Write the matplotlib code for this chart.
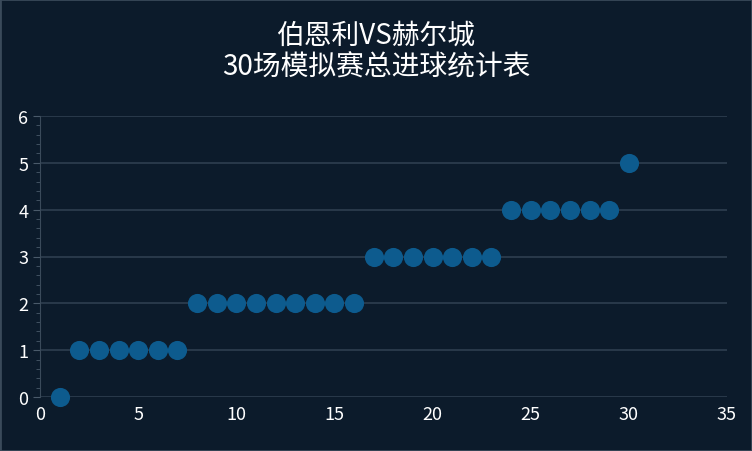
import matplotlib
matplotlib.use("Agg")
import matplotlib.pyplot as plt
from matplotlib.ticker import MultipleLocator

plt.rcParams['font.family'] = ['Noto Sans CJK SC', 'DejaVu Sans']

matches = list(range(1, 31))
goals = [0, 1, 1, 1, 1, 1, 1, 2, 2, 2, 2, 2, 2, 2, 2, 2,
         3, 3, 3, 3, 3, 3, 3, 4, 4, 4, 4, 4, 4, 5]
title = "伯恩利VS赫尔城\n30场模拟赛总进球统计表"

bg = "#0c1b2b"
fig = plt.figure(figsize=(7.52, 4.52), dpi=100, facecolor=bg)
fig.patches.append(plt.Rectangle((0, 0), 1, 1, transform=fig.transFigure,
                                 fill=False, edgecolor="#3a4a5a", linewidth=2))
ax = fig.add_axes([40/752, 54/452, 687/752, 281/452], facecolor=bg)
ax.scatter(matches, goals, s=190, color="#0d5b8e", zorder=3, linewidths=0)
ax.set_xlim(0, 35)
ax.set_ylim(0, 6)
ax.xaxis.set_major_locator(MultipleLocator(5))
ax.yaxis.set_major_locator(MultipleLocator(1))
ax.yaxis.set_minor_locator(MultipleLocator(0.2))
ax.grid(axis='y', color="#2e3f50", linewidth=1.2)
ax.set_axisbelow(True)
for s in ['top', 'right', 'bottom']:
    ax.spines[s].set_visible(False)
ax.spines['left'].set_color("#3a4a5a")
ax.tick_params(axis='y', which='major', colors='white', labelsize=13, length=5, color="#4a5a6a")
ax.tick_params(axis='y', which='minor', length=3, color="#4a5a6a")
ax.tick_params(axis='x', colors='white', labelsize=13, length=0, pad=6)
for c in ax.collections:
    c.set_clip_on(False)
fig.text(0.5, 0.955, title, ha='center', va='top', color='white', fontsize=20, linespacing=1.1)
fig.savefig("out.png", dpi=100, facecolor=bg)
